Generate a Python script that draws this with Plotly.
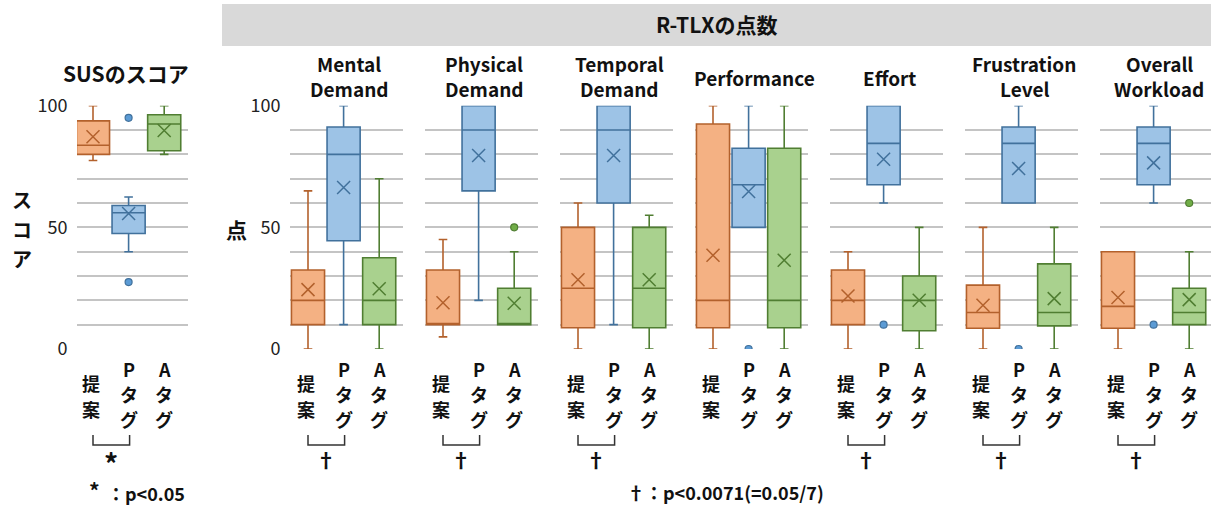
import plotly.graph_objects as go

W, H = 1211, 506

# ---- data -------------------------------------------------------------
categories = ["提案", "Pタグ", "Aタグ"]

# SUS score per condition
sus_lower = [77.5, 40, 80]
sus_q1 = [80, 47.5, 81.5]
sus_median = [83.75, 56, 92.5]
sus_q3 = [93.75, 59, 96.25]
sus_upper = [100, 62.5, 100]
sus_mean = [87.2, 55.7, 89.8]
sus_outliers = [[], [95, 27.5], []]

# R-TLX subscale scores, one row per subscale, columns = conditions
rtlx_titles = [["Mental", "Demand"], ["Physical", "Demand"], ["Temporal", "Demand"],
               ["Performance"], ["Effort"], ["Frustration", "Level"], ["Overall", "Workload"]]
rtlx_lower = [[0, 10, 0], [5, 20, 10], [0, 10, 0], [0, 50, 0],
              [0, 60, 0], [0, 60, 0], [0, 60, 0]]
rtlx_q1 = [[10, 44.5, 10], [10, 65, 10], [8.75, 60, 8.75], [8.75, 50, 8.75],
           [10, 67.5, 7.5], [8.5, 60, 9.5], [8.5, 67.5, 10]]
rtlx_median = [[20, 80, 20], [10, 90, 10], [25, 90, 25], [20, 67.5, 20],
               [20, 84.5, 20], [15, 84.5, 15], [17.5, 84.5, 15]]
rtlx_q3 = [[32.5, 91.25, 37.5], [32.5, 100, 25], [50, 100, 50], [92.5, 82.5, 82.5],
           [32.5, 100, 30], [26.25, 91.25, 35], [40, 91.25, 25]]
rtlx_upper = [[65, 100, 70], [45, 100, 40], [60, 100, 55], [100, 100, 100],
              [40, 100, 50], [50, 100, 50], [40, 100, 40]]
rtlx_mean = [[24.4, 66.4, 24.8], [19, 79.5, 18.8], [28.5, 79.5, 28.5], [38.5, 64.7, 36.5],
             [21.8, 78, 20], [18, 74.2, 20.7], [21.2, 76.5, 20.3]]
rtlx_outliers = [[[], [], []], [[], [], [50]], [[], [], []], [[], [0], []],
                 [[], [10], []], [[], [0], []], [[], [10], [60]]]
rtlx_significant = [True, True, True, False, True, True, True]

# ---- styling ----------------------------------------------------------
fills = ["#F4B183", "#9DC3E6", "#A9D18E"]
edges = ["#B3612C", "#41719C", "#507E32"]
dot_fills = ["#ED7D31", "#5B9BD5", "#70AD47"]
grid_color = "#C4C4C4"
FONT = "Noto Sans CJK JP"
TXT = "#111111"


def px(x):
    return x / W


def py(y):
    return 1 - y / H


Y_TOP, Y_BOT = 105.7, 349.0
SPACING = 35.6

# panel left/right pixel edges and first-category pixel offset
panels = [(77, 188, 16)] + [(290 + 135 * i, min(290 + 135 * i + 113, W), 18) for i in range(7)]

fig = go.Figure()
layout_axes = {}

all_stats = [(sus_lower, sus_q1, sus_median, sus_q3, sus_upper, sus_mean, sus_outliers)]
for k in range(7):
    all_stats.append((rtlx_lower[k], rtlx_q1[k], rtlx_median[k], rtlx_q3[k],
                      rtlx_upper[k], rtlx_mean[k], rtlx_outliers[k]))

for p, (L, R, off) in enumerate(panels):
    n = p + 1
    xa = "x" if n == 1 else f"x{n}"
    ya = "y" if n == 1 else f"y{n}"
    r0 = -off / SPACING
    r1 = r0 + (R - L) / SPACING
    show_labels = p in (0, 1)
    tickvals = list(range(0, 101, 10))
    ticktext = [str(v) if v in (0, 50, 100) else "" for v in tickvals]
    layout_axes["xaxis" if n == 1 else f"xaxis{n}"] = dict(
        domain=[px(L), px(R)], range=[r0, r1], anchor=ya, automargin=False,
        showgrid=False, zeroline=False, showticklabels=False, showline=False)
    layout_axes["yaxis" if n == 1 else f"yaxis{n}"] = dict(
        domain=[py(Y_BOT), py(Y_TOP)], range=[0, 100], anchor=xa, automargin=False,
        tickvals=tickvals, ticktext=ticktext, showticklabels=show_labels,
        ticks="outside" if show_labels else "", ticklen=5, tickcolor="rgba(0,0,0,0)",
        tickfont=dict(family=FONT, size=18, color="#222222"),
        showgrid=True, gridcolor=grid_color, gridwidth=2,
        zeroline=False, showline=False)

    lo, q1, med, q3, up, mean, outl = all_stats[p]
    for i in range(3):
        fig.add_trace(go.Box(
            x=[i], q1=[q1[i]], median=[med[i]], q3=[q3[i]],
            lowerfence=[lo[i]], upperfence=[up[i]],
            width=0.93, whiskerwidth=0.26, fillcolor=fills[i],
            line=dict(color=edges[i], width=1.6),
            xaxis=xa, yaxis=ya, showlegend=False, name=categories[i]))
        if outl[i]:
            fig.add_trace(go.Scatter(
                x=[i] * len(outl[i]), y=outl[i], mode="markers",
                marker=dict(symbol="circle", size=7, color=dot_fills[i],
                            line=dict(color=edges[i], width=1.2)),
                xaxis=xa, yaxis=ya, showlegend=False))
    fig.add_trace(go.Scatter(
        x=[0, 1, 2], y=mean, mode="markers", cliponaxis=False,
        marker=dict(symbol="x-thin", size=13, line=dict(color=edges, width=1.5)),
        xaxis=xa, yaxis=ya, showlegend=False))

annotations = []
shapes = []


def label(x, y, text, size=18, bold=True):
    annotations.append(dict(
        x=px(x), y=py(y), xref="paper", yref="paper", text=text, showarrow=False,
        xanchor="center", yanchor="middle",
        font=dict(family=FONT, size=size, color=TXT, weight="bold" if bold else "normal")))


def vlabel(x, y_center, chars, pitch, size=18):
    """Stack characters vertically around y_center."""
    n = len(chars)
    for j, ch in enumerate(chars):
        label(x, y_center + (j - (n - 1) / 2) * pitch, ch, size=size)


# header band over the R-TLX panels
shapes.append(dict(type="rect", xref="paper", yref="paper",
                   x0=px(222), x1=px(W), y0=py(46), y1=py(4),
                   fillcolor="#D9D9D9", line=dict(width=0), layer="below"))
label(717, 24, "R-TLXの点数", size=21)
label(126, 73, "SUSのスコア", size=21)

# axis titles
vlabel(22, 229, "スコア", 29.5, size=20)
label(236, 229, "点", size=21)

# subscale titles
for k, lines in enumerate(rtlx_titles):
    L, R, off = panels[k + 1]
    cx = L + 59
    if len(lines) == 2:
        label(cx, 63.5, lines[0], size=19)
        label(cx, 89, lines[1], size=19)
    else:
        label(cx, 77, lines[0], size=19)

# condition labels and significance brackets
for p, (L, R, off) in enumerate(panels):
    centers = [L + off + SPACING * i for i in range(3)]
    vlabel(centers[0] - 2, 396, "提案", 25.5)
    vlabel(centers[1], 394, "Pタグ", 24.8)
    vlabel(centers[2], 394, "Aタグ", 24.8)
    sig = True if p == 0 else rtlx_significant[p - 1]
    if sig:
        x0, x1 = centers[0], centers[1] + 1
        path = f"M {px(x0)},{py(435)} L {px(x0)},{py(445)} L {px(x1)},{py(445)} L {px(x1)},{py(435)}"
        shapes.append(dict(type="path", xref="paper", yref="paper", path=path,
                           line=dict(color="#333333", width=1.5)))
        if p == 0:
            label((x0 + x1) / 2, 463, "*", size=28)
        else:
            label((x0 + x1) / 2, 459, "†", size=20)

# significance legends
label(94, 490, "*", size=21)
label(146, 493, "：p<0.05", size=18)
label(725, 492, "†：p<0.0071(=0.05/7)", size=18)

fig.update_layout(
    width=W, height=H, margin=dict(l=0, r=0, t=0, b=0, autoexpand=False),
    paper_bgcolor="white", plot_bgcolor="white",
    boxmode="overlay", showlegend=False,
    annotations=annotations, shapes=shapes,
    **layout_axes)

fig.write_html("out.html")
